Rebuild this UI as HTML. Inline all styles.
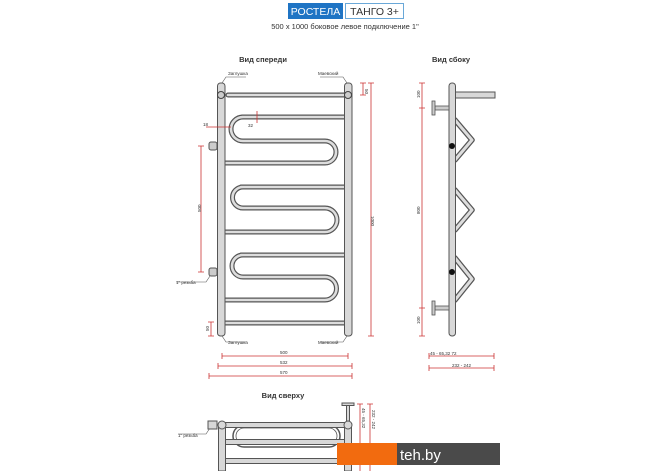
<!DOCTYPE html>
<html><head><meta charset="utf-8"><style>
html,body{margin:0;padding:0;background:#fff;}
svg{display:block;font-family:"Liberation Sans",sans-serif;}
</style></head><body>
<svg width="670" height="471" viewBox="0 0 670 471" xmlns="http://www.w3.org/2000/svg">
<rect width="670" height="471" fill="#fff"/>
<rect x="288" y="3" width="55" height="16" fill="#1f74c4"/>
<text x="315.5" y="15" font-size="10.5" fill="#fff" text-anchor="middle">РОСТЕЛА</text>
<rect x="345.5" y="3.5" width="58" height="15" fill="#fff" stroke="#6aa8d8"/>
<text x="374.5" y="15" font-size="10.5" fill="#333" text-anchor="middle">ТАНГО 3+</text>
<text x="345" y="29" font-size="7.5" fill="#333" text-anchor="middle">500 x 1000 боковое левое подключение 1"</text>
<text x="263" y="62" font-size="7.5" font-weight="bold" fill="#333" text-anchor="middle">Вид спереди</text>
<text x="451" y="62" font-size="7.5" font-weight="bold" fill="#333" text-anchor="middle">Вид сбоку</text>
<text x="283" y="398" font-size="7.5" font-weight="bold" fill="#333" text-anchor="middle">Вид сверху</text>

<g fill="none" stroke-linecap="round">
<g stroke="#555" stroke-width="5">
<path d="M228 95H348 M242 117H345 M243 117A12 12 0 0 0 243 141H325A11 11 0 0 1 325 163H225 M241 187H345 M243 187A10.5 10.5 0 0 0 243 208H325A12 12 0 0 1 325 232H225 M241 255H345 M243 255A11 11 0 0 0 243 277H325A11.5 11.5 0 0 1 325 300H225 M225 323H345"/>
</g>
<g stroke="#ddd" stroke-width="2.6">
<path d="M228 95H348 M242 117H345 M243 117A12 12 0 0 0 243 141H325A11 11 0 0 1 325 163H225 M241 187H345 M243 187A10.5 10.5 0 0 0 243 208H325A12 12 0 0 1 325 232H225 M241 255H345 M243 255A11 11 0 0 0 243 277H325A11.5 11.5 0 0 1 325 300H225 M225 323H345"/>
</g>
</g>
<rect x="217.5" y="83" width="7.5" height="253" rx="3" fill="#d8d8d8" stroke="#555"/>
<rect x="344.5" y="83" width="7.5" height="253" rx="3" fill="#d8d8d8" stroke="#555"/>
<circle cx="221" cy="95" r="3.5" fill="#ccc" stroke="#444"/>
<circle cx="348" cy="95" r="3.5" fill="#ccc" stroke="#444"/>
<rect x="209" y="142" width="8" height="8" rx="2" fill="#ccc" stroke="#555"/>
<rect x="209" y="268" width="8" height="8" rx="2" fill="#ccc" stroke="#555"/>
<g font-size="4.5" fill="#333">
<text x="228" y="75">Заглушка</text><text x="318" y="75">Маевский</text>
<text x="228" y="344">Заглушка</text><text x="318" y="344">Маевский</text>
<text x="176" y="284">1" резьба</text>
<text x="178" y="437">1" резьба</text>
</g>
<g stroke="#555" stroke-width="0.6" fill="none">
<path d="M222 83L226 77H246 M347 83L343 77H320 M222 336L226 342H246 M347 336L343 342H320 M210 276L206 282H176 M210 428L206 434H178"/>
</g>
<g stroke="#c33" stroke-width="0.8" fill="none">
<path d="M201 146V272 M198 146H204 M198 272H204"/>
<path d="M371 83V336 M368 83H374 M368 336H374"/>
<path d="M363 83V95 M360 83H366 M360 95H366"/>
<path d="M211 322V336 M208 322H214 M208 336H214"/>
<path d="M222 356H348 M218 366H352 M209 376H352"/>
<path d="M222 353V359 M348 353V359 M218 363V369 M352 363V369 M209 373V379 M352 373V379"/>
<path d="M206 127H231 M257 111V123"/>
<path d="M422 83V336 M419 83H425 M419 108H425 M419 308H425 M419 336H425"/>
<path d="M429 356H470 M470 356H494 M429 368H494 M429 353V359 M494 353V359 M429 365V371 M494 365V371"/>
<path d="M360 404V471 M370 404V471 M357 404H363 M367 404H373"/>
</g>
<g font-size="4.5" fill="#333">
<text x="203" y="214" transform="rotate(-90 201 214)">500</text>
<text x="373" y="214" transform="rotate(90 371 214)">1000</text>
<text x="365" y="89" transform="rotate(90 365 89)">50</text>
<text x="209" y="331" transform="rotate(-90 209 331)">50</text>
<text x="280" y="354">500</text><text x="280" y="364">532</text><text x="280" y="374">570</text>
<text x="203" y="126">18</text><text x="248" y="127">32</text>
<text x="420" y="98" transform="rotate(-90 420 98)">100</text>
<text x="420" y="214" transform="rotate(-90 420 214)">800</text>
<text x="420" y="324" transform="rotate(-90 420 324)">100</text>
<text x="430" y="355">45 - 65,32   72</text>
<text x="452" y="367">232 - 242</text>
<text x="362" y="408" transform="rotate(90 362 408)">45 - 65,32</text>
<text x="372" y="410" transform="rotate(90 372 410)">232 - 242</text>
</g>
<g fill="none" stroke-linecap="round" stroke-linejoin="round">
<path d="M455 120L472 140L455 160 M455 190L472 210L455 230 M455 258L472 279L455 300" stroke="#555" stroke-width="5.5"/>
<path d="M455 120L472 140L455 160 M455 190L472 210L455 230 M455 258L472 279L455 300" stroke="#ddd" stroke-width="3"/>
</g>
<rect x="455" y="92" width="40" height="6" fill="#d8d8d8" stroke="#555"/>
<rect x="449" y="83" width="6.5" height="253" rx="3" fill="#d8d8d8" stroke="#555"/>
<circle cx="452" cy="146" r="3" fill="#111"/><circle cx="452" cy="272" r="3" fill="#111"/>
<g fill="#ccc" stroke="#555" stroke-width="0.8">
<rect x="435" y="106" width="14" height="4"/><rect x="432" y="101" width="3" height="14"/>
<rect x="435" y="306" width="14" height="4"/><rect x="432" y="301" width="3" height="14"/>
</g>
<g fill="none" stroke="#555">
<rect x="233" y="425" width="107" height="22" rx="11" stroke-width="1.5"/>
<rect x="236" y="428" width="101" height="16" rx="8" stroke-width="0.8"/>
</g>
<g fill="#d8d8d8" stroke="#555">
<rect x="222" y="422.5" width="126" height="5"/>
<rect x="222" y="439.5" width="126" height="5"/>
<rect x="222" y="458.5" width="126" height="5"/>
<rect x="218.5" y="425" width="7" height="46"/>
<rect x="344.5" y="425" width="7" height="46"/>
<circle cx="222" cy="425" r="4"/><circle cx="348" cy="425" r="4"/>
<rect x="208" y="421" width="9" height="8"/>
<rect x="346.5" y="405" width="3" height="16"/>
<rect x="342" y="403" width="12" height="2.5"/>
</g>
<rect x="337" y="443" width="60" height="22" fill="#f26b0f"/>
<rect x="397" y="443" width="103" height="22" fill="#4a4a4a"/>
<text x="400" y="460" font-size="15" fill="#fff">teh.by</text>
</svg>
</body></html>
